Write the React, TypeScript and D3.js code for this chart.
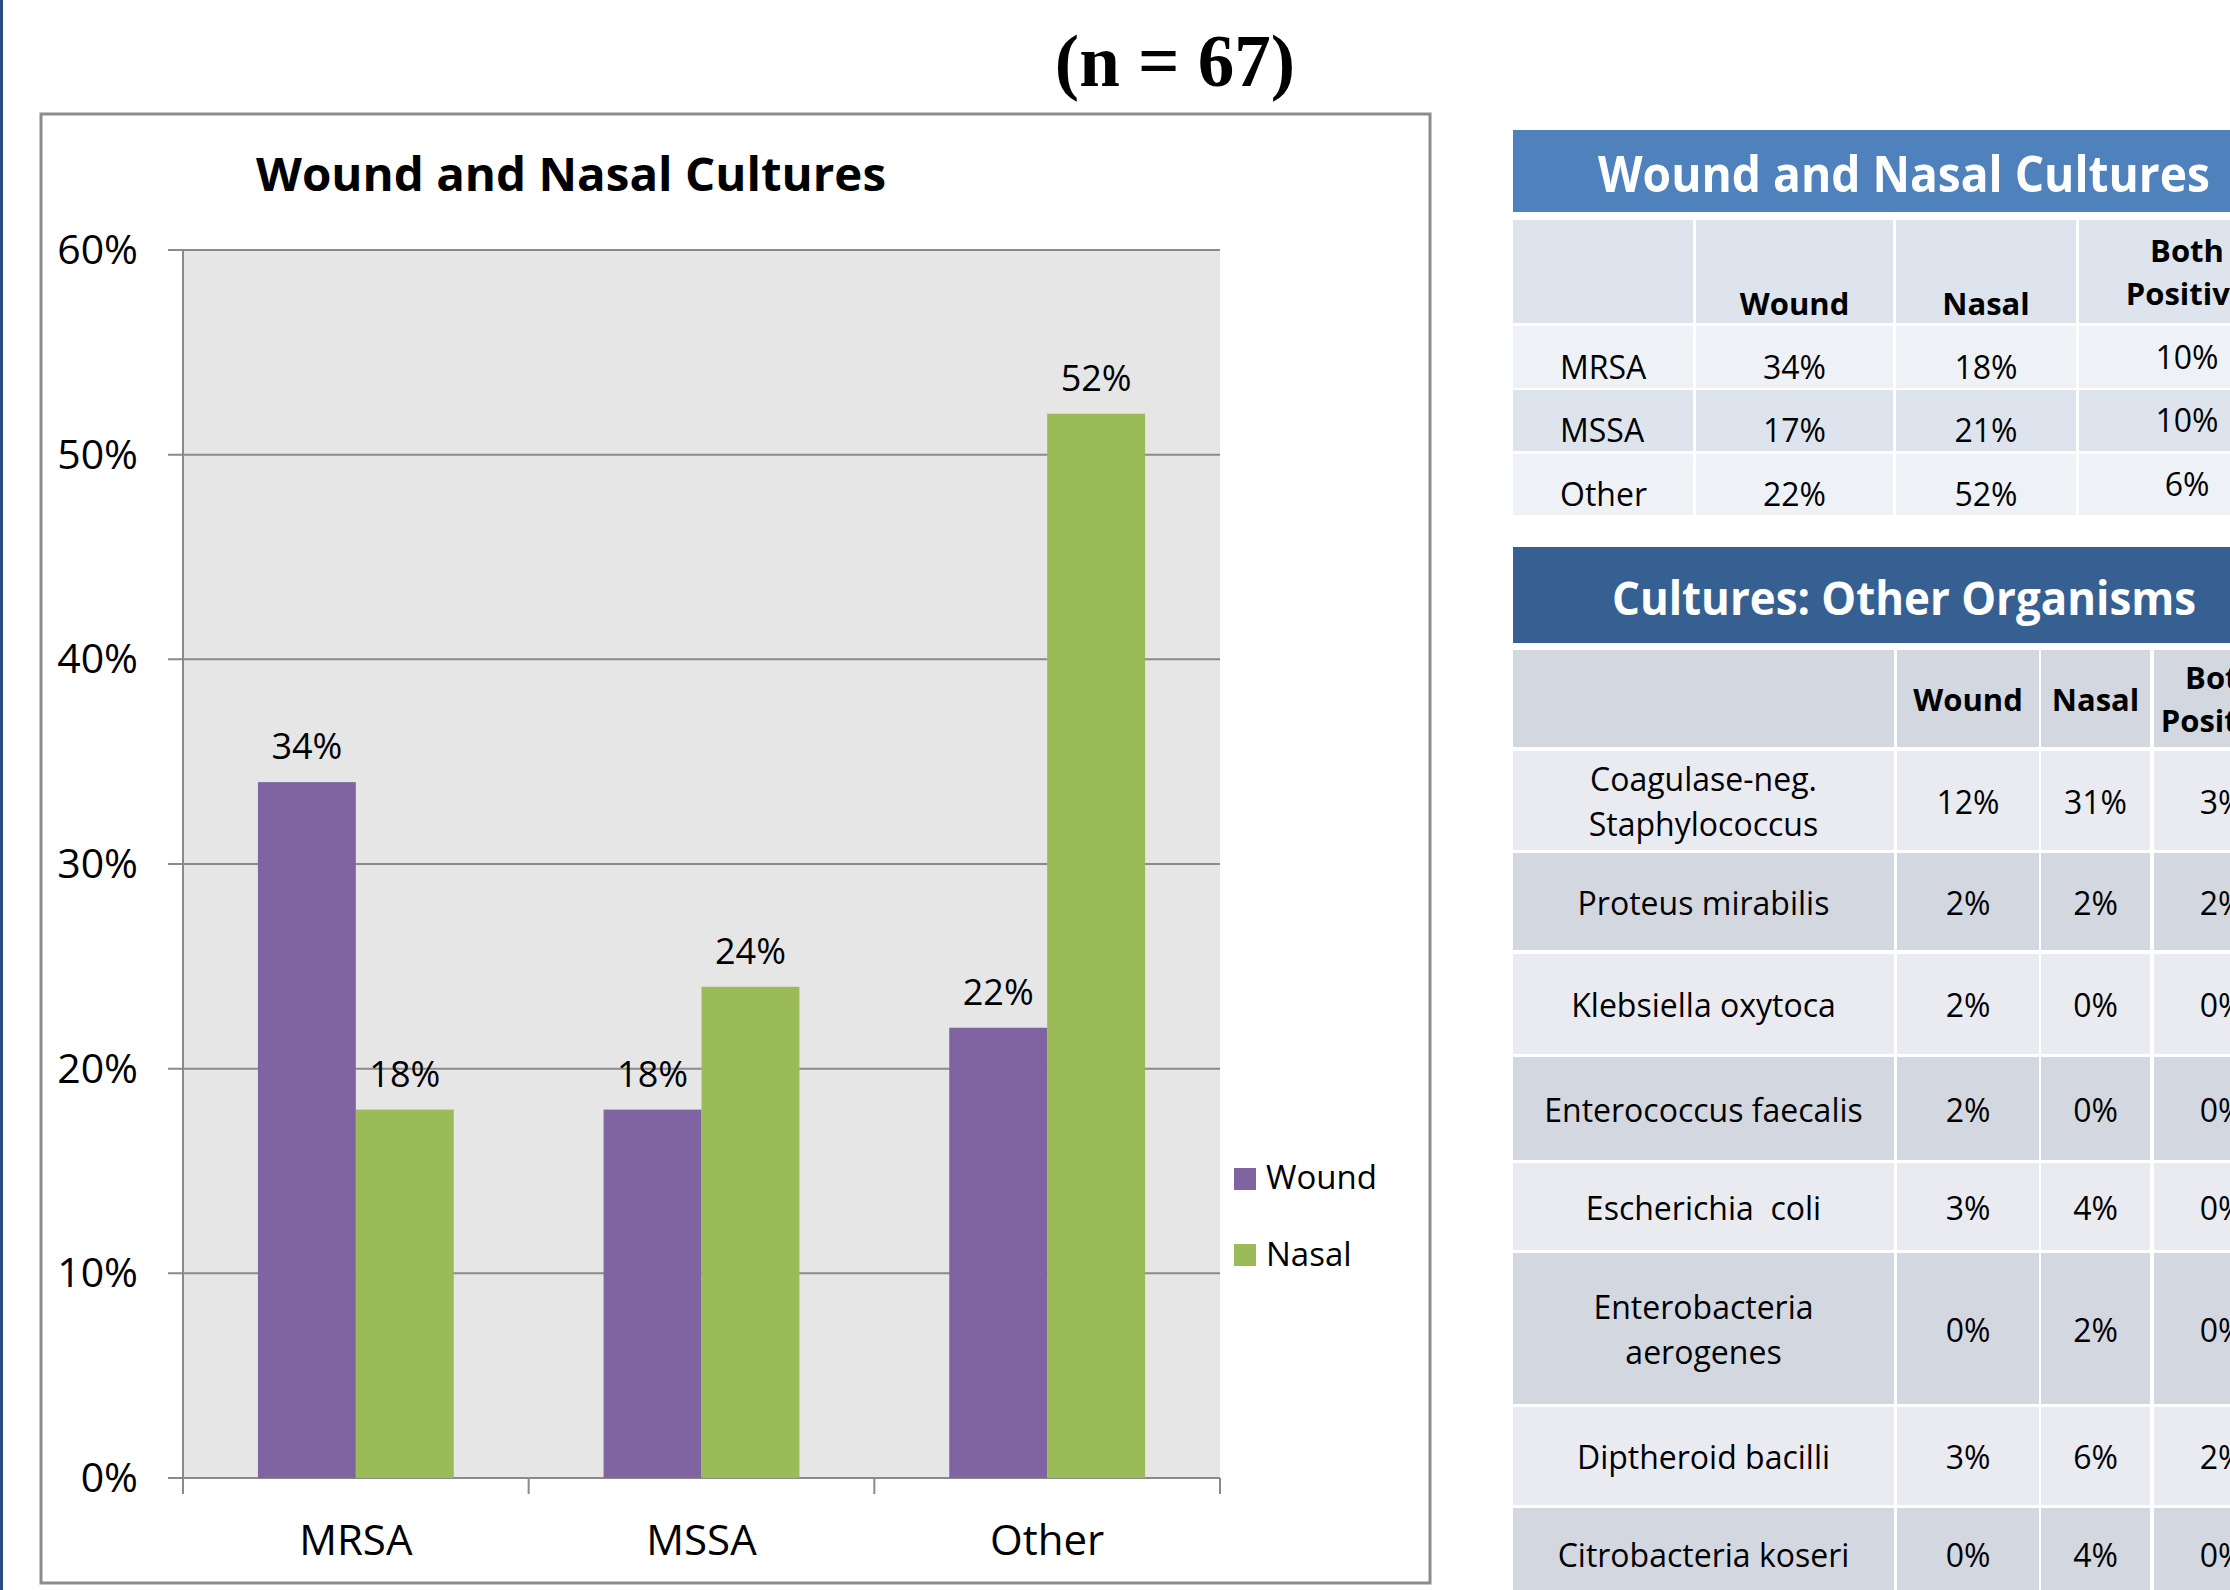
import React from "react";
import * as d3 from "d3";

const categories = ["MRSA", "MSSA", "Other"];
const seriesNames = ["Wound", "Nasal"];
const woundValues = [34, 18, 22];
const nasalValues = [18, 24, 52];
const yTicks = [0, 10, 20, 30, 40, 50, 60];

const t1Rows = ["MRSA", "MSSA", "Other"];
const t1Wound = ["34%", "17%", "22%"];
const t1Nasal = ["18%", "21%", "52%"];
const t1Both = ["10%", "10%", "6%"];

const t2Rows = [
  ["Coagulase-neg.", "Staphylococcus"],
  ["Proteus mirabilis"],
  ["Klebsiella oxytoca"],
  ["Enterococcus faecalis"],
  ["Escherichia  coli"],
  ["Enterobacteria", "aerogenes"],
  ["Diptheroid bacilli"],
  ["Citrobacteria koseri"],
];
const t2Wound = ["12%", "2%", "2%", "2%", "3%", "0%", "3%", "0%"];
const t2Nasal = ["31%", "2%", "0%", "0%", "4%", "2%", "6%", "4%"];
const t2Both = ["3%", "2%", "0%", "0%", "0%", "0%", "2%", "0%"];

const colors: Record<string, string> = { Wound: "#8064a2", Nasal: "#9bbb59" };
const FONT = "'Open Sans', 'Noto Sans', sans-serif";

export default function App() {
  const W = 2230, H = 1590;
  const plotL = 183, plotR = 1220, plotT = 250, plotB = 1478;
  const x = d3.scaleBand<string>().domain(categories).range([plotL, plotR]).paddingInner(0).paddingOuter(0);
  const xs = d3.scaleBand<string>().domain(seriesNames).range([0, x.bandwidth()]).paddingInner(0).paddingOuter(0.765);
  const y = d3.scaleLinear().domain([0, 60]).range([plotB, plotT]);
  const data = categories.map((c, i) => ({ c, vals: [woundValues[i], nasalValues[i]] }));

  // table 1 geometry
  const t1Cols = [[1513, 1693], [1696, 1893], [1896, 2076], [2079, 2300]];
  const t1RowY = [[326, 388], [390, 451], [454, 515]];
  // table 2 geometry
  const t2Cols = [[1513, 1894], [1897, 2039], [2041, 2150], [2154, 2300]];
  const t2RowY = [[751, 850], [853, 950], [954, 1054], [1057, 1160], [1163, 1250], [1253, 1404], [1407, 1505], [1508, 1600]];
  const t2Light = "#e9ebf0", t2Dark = "#d3d7e0";
  const t1Light = "#eef2f6", t1Dark = "#dde4ed";
  const mid = (c: number[]) => (c[0] + c[1]) / 2;

  return (
    <svg width={W} height={H} style={{ position: "absolute", left: 0, top: 0, background: "#fff" }}>
      <rect x={0} y={0} width={W} height={H} fill="#ffffff" />
      <rect x={0} y={0} width={3} height={H} fill="#2a4d8a" />
      <text x={1175} y={86} textAnchor="middle" fontFamily="'Liberation Serif', 'Times New Roman', serif" fontWeight="bold" fontSize={73} fill="#000">(n = 67)</text>

      {/* chart box */}
      <rect x={41} y={114} width={1389} height={1469} fill="#fff" stroke="#8c8c8c" strokeWidth={3} />
      <text x={256} y={191} fontFamily={FONT} fontWeight="bold" fontSize={46} textLength={630} lengthAdjust="spacingAndGlyphs" fill="#000">Wound and Nasal Cultures</text>

      <rect x={plotL} y={plotT} width={plotR - plotL} height={plotB - plotT} fill="#e6e6e6" />
      {yTicks.map((t) => (
        <g key={t}>
          <line x1={plotL - 15} x2={plotR} y1={y(t)} y2={y(t)} stroke="#8a8a8a" strokeWidth={2} />
          <text x={138} y={y(t) + 14} textAnchor="end" fontFamily={FONT} fontSize={41} fill="#000">{t}%</text>
        </g>
      ))}
      <line x1={plotL} x2={plotL} y1={plotT} y2={plotB} stroke="#8a8a8a" strokeWidth={2} />
      {categories.map((c) => (
        <line key={c} x1={x(c)!} x2={x(c)!} y1={plotB} y2={plotB + 16} stroke="#8a8a8a" strokeWidth={2} />
      ))}
      <line x1={plotR} x2={plotR} y1={plotB} y2={plotB + 16} stroke="#8a8a8a" strokeWidth={2} />

      {data.map((d) => (
        <g key={d.c}>
          {seriesNames.map((s, j) => {
            const bx = x(d.c)! + xs(s)!;
            return (
              <g key={s}>
                <rect x={bx} y={y(d.vals[j])} width={xs.bandwidth()} height={plotB - y(d.vals[j])} fill={colors[s]} />
                <text x={bx + xs.bandwidth() / 2} y={y(d.vals[j]) - 23} textAnchor="middle" fontFamily={FONT} fontSize={36} fill="#000">{d.vals[j]}%</text>
              </g>
            );
          })}
          <text x={x(d.c)! + x.bandwidth() / 2} y={1555} textAnchor="middle" fontFamily={FONT} fontSize={42} fill="#000">{d.c}</text>
        </g>
      ))}

      {seriesNames.map((s, i) => (
        <g key={s}>
          <rect x={1234} y={1168 + i * 76} width={22} height={22} fill={colors[s]} />
          <text x={1266} y={1189 + i * 77} fontFamily={FONT} fontSize={33} fill="#000">{s}</text>
        </g>
      ))}

      {/* Table 1 */}
      <rect x={1513} y={130} width={800} height={82} fill="#4f81bd" />
      <text x={1598} y={192} fontFamily={FONT} fontWeight="bold" fontSize={50} textLength={612} lengthAdjust="spacingAndGlyphs" fill="#fff">Wound and Nasal Cultures</text>
      {t1Cols.map((c, i) => (
        <rect key={"h" + i} x={c[0]} y={220} width={c[1] - c[0]} height={103} fill={t1Dark} />
      ))}
      <text x={mid(t1Cols[1])} y={315} textAnchor="middle" fontFamily={FONT} fontWeight="bold" fontSize={31} fill="#000">Wound</text>
      <text x={mid(t1Cols[2])} y={315} textAnchor="middle" fontFamily={FONT} fontWeight="bold" fontSize={31} fill="#000">Nasal</text>
      <text x={2187} y={262} textAnchor="middle" fontFamily={FONT} fontWeight="bold" fontSize={31} fill="#000">Both</text>
      <text x={2187} y={305} textAnchor="middle" fontFamily={FONT} fontWeight="bold" fontSize={31} fill="#000">Positive</text>
      {t1Rows.map((r, i) => {
        const [ya, yb] = t1RowY[i];
        const fill = i % 2 === 0 ? t1Light : t1Dark;
        return (
          <g key={r}>
            {t1Cols.map((c, k) => (
              <rect key={k} x={c[0]} y={ya} width={c[1] - c[0]} height={yb - ya} fill={fill} />
            ))}
            <text x={1560} y={yb - 9} fontFamily={FONT} fontSize={32} fill="#000">{r}</text>
            <text x={mid(t1Cols[1])} y={yb - 9} textAnchor="middle" fontFamily={FONT} fontSize={32} fill="#000">{t1Wound[i]}</text>
            <text x={mid(t1Cols[2])} y={yb - 9} textAnchor="middle" fontFamily={FONT} fontSize={32} fill="#000">{t1Nasal[i]}</text>
            <text x={2187} y={yb - 19} textAnchor="middle" fontFamily={FONT} fontSize={32} fill="#000">{t1Both[i]}</text>
          </g>
        );
      })}

      {/* Table 2 */}
      <rect x={1513} y={547} width={800} height={96} fill="#376092" />
      <text x={1612} y={615} fontFamily={FONT} fontWeight="bold" fontSize={47} textLength={584} lengthAdjust="spacingAndGlyphs" fill="#fff">Cultures: Other Organisms</text>
      {t2Cols.map((c, i) => (
        <rect key={"h2" + i} x={c[0]} y={650} width={c[1] - c[0]} height={97} fill={t2Dark} />
      ))}
      <text x={mid(t2Cols[1])} y={711} textAnchor="middle" fontFamily={FONT} fontWeight="bold" fontSize={31} fill="#000">Wound</text>
      <text x={mid(t2Cols[2])} y={711} textAnchor="middle" fontFamily={FONT} fontWeight="bold" fontSize={31} fill="#000">Nasal</text>
      <text x={2222} y={689} textAnchor="middle" fontFamily={FONT} fontWeight="bold" fontSize={31} fill="#000">Both</text>
      <text x={2222} y={732} textAnchor="middle" fontFamily={FONT} fontWeight="bold" fontSize={31} fill="#000">Positive</text>
      {t2Rows.map((r, i) => {
        const [ya, yb] = t2RowY[i];
        const cy = (ya + yb) / 2;
        const fill = i % 2 === 0 ? t2Light : t2Dark;
        return (
          <g key={i}>
            {t2Cols.map((c, k) => (
              <rect key={k} x={c[0]} y={ya} width={c[1] - c[0]} height={yb - ya} fill={fill} />
            ))}
            {r.map((line, li) => (
              <text key={li} x={mid(t2Cols[0])} y={cy + 13 + (li - (r.length - 1) / 2) * 45} textAnchor="middle" fontFamily={FONT} fontSize={32} fill="#000" style={{ whiteSpace: "pre" }}>{line}</text>
            ))}
            <text x={mid(t2Cols[1])} y={cy + 13} textAnchor="middle" fontFamily={FONT} fontSize={32} fill="#000">{t2Wound[i]}</text>
            <text x={mid(t2Cols[2])} y={cy + 13} textAnchor="middle" fontFamily={FONT} fontSize={32} fill="#000">{t2Nasal[i]}</text>
            <text x={2222} y={cy + 13} textAnchor="middle" fontFamily={FONT} fontSize={32} fill="#000">{t2Both[i]}</text>
          </g>
        );
      })}
    </svg>
  );
}
